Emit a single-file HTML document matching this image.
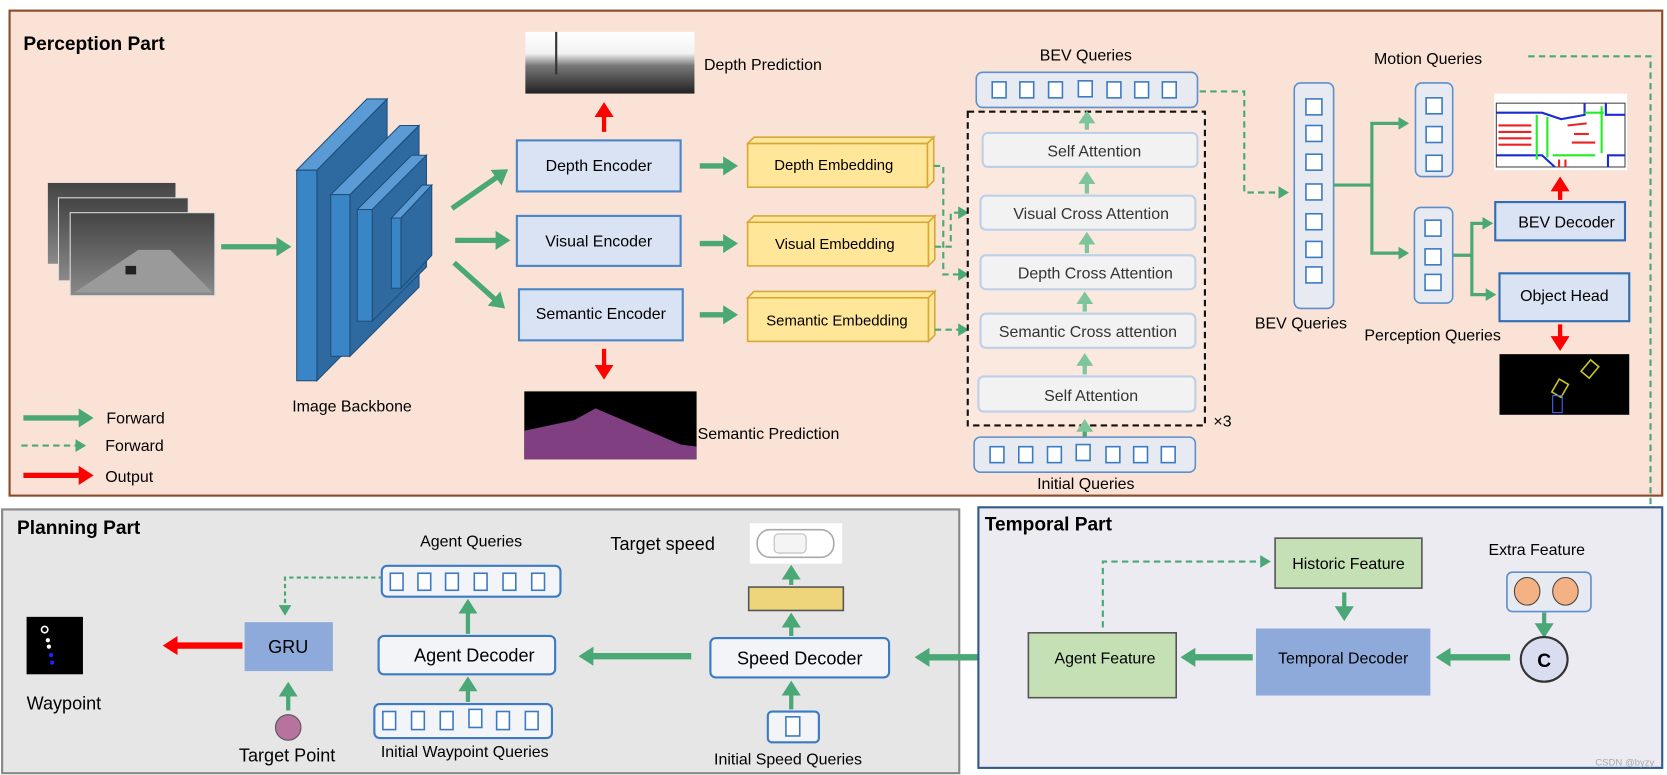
<!DOCTYPE html>
<html><head><meta charset="utf-8"><style>
html,body{margin:0;padding:0;background:#fff;overflow:hidden;}
svg{display:block;font-family:"Liberation Sans",Arial,sans-serif;}
</style></head><body>
<svg width="1667" height="775" viewBox="0 0 1567.5 728.7" preserveAspectRatio="none" xmlns="http://www.w3.org/2000/svg">
<defs>
<marker id="g" markerUnits="userSpaceOnUse" markerWidth="16" markerHeight="18" refX="2" refY="9" orient="auto"><path d="M0,0 L14,9 L0,18 Z" fill="#4aa876"/></marker>
<marker id="lg" markerUnits="userSpaceOnUse" markerWidth="14" markerHeight="16" refX="2" refY="8" orient="auto"><path d="M0,0 L12,8 L0,16 Z" fill="#7ec59c"/></marker>
<marker id="r" markerUnits="userSpaceOnUse" markerWidth="16" markerHeight="18" refX="2" refY="9" orient="auto"><path d="M0,0 L14,9 L0,18 Z" fill="#f00"/></marker>
<marker id="d" markerUnits="userSpaceOnUse" markerWidth="12" markerHeight="12" refX="1" refY="6" orient="auto"><path d="M0,0 L10,6 L0,12 Z" fill="#4aa876"/></marker>
<marker id="t" markerUnits="userSpaceOnUse" markerWidth="12" markerHeight="12" refX="1" refY="6" orient="auto"><path d="M0,0 L10,6 L0,12 Z" fill="#4aa876"/></marker>
<linearGradient id="dep" x1="0" y1="0" x2="0" y2="1"><stop offset="0" stop-color="#fff"/><stop offset="0.35" stop-color="#f2f2f2"/><stop offset="0.55" stop-color="#777"/><stop offset="1" stop-color="#222"/></linearGradient>
<linearGradient id="img" x1="0" y1="0" x2="0" y2="1"><stop offset="0" stop-color="#444"/><stop offset="0.5" stop-color="#666"/><stop offset="1" stop-color="#8a8a8a"/></linearGradient>
</defs>

<!-- Perception Part -->
<rect x="9" y="10" width="1554" height="456" fill="#fae3d6" stroke="#8b4a2a" stroke-width="2"/>
<text x="22" y="47" font-size="18" font-weight="bold">Perception Part</text>

<!-- input images -->
<rect x="45" y="172" width="120" height="76" fill="url(#img)"/>
<rect x="55" y="186" width="122" height="78" fill="url(#img)" stroke="#ddd" stroke-width="1"/>
<rect x="66" y="200" width="136" height="78" fill="url(#img)" stroke="#ddd" stroke-width="1"/>
<path d="M70,275 L130,235 L160,235 L200,275 Z" fill="#9a9a9a"/>
<rect x="118" y="250" width="10" height="8" fill="#222"/>
<line x1="208" y1="232" x2="262" y2="232" stroke="#4aa876" stroke-width="5" marker-end="url(#g)"/>

<!-- backbone slabs -->
<g stroke="#1f4e79" stroke-width="1">
<polygon points="298,160 364,93 364,291 298,358" fill="#2e6aa0"/>
<polygon points="279,160 345,93 364,93 298,160" fill="#5b9bd5"/>
<rect x="279" y="160" width="19" height="198" fill="#3a85c5"/>
<polygon points="329,183 394,118 394,270 329,335" fill="#2e6aa0"/>
<polygon points="311,183 376,118 394,118 329,183" fill="#5b9bd5"/>
<rect x="311" y="183" width="18" height="152" fill="#3a85c5"/>
<polygon points="350,197 401,146 401,251 350,302" fill="#2e6aa0"/>
<polygon points="336,197 387,146 401,146 350,197" fill="#5b9bd5"/>
<rect x="336" y="197" width="14" height="105" fill="#3a85c5"/>
<polygon points="377,205 406,174 406,240 377,271" fill="#2e6aa0"/>
<polygon points="368,205 397,174 406,174 377,205" fill="#5b9bd5"/>
<rect x="368" y="205" width="9" height="66" fill="#3a85c5"/>
</g>
<text x="331" y="387" font-size="15" text-anchor="middle">Image Backbone</text>

<!-- encoders -->
<line x1="425" y1="196" x2="468" y2="166" stroke="#4aa876" stroke-width="5" marker-end="url(#g)"/>
<line x1="428" y1="226" x2="468" y2="226" stroke="#4aa876" stroke-width="5" marker-end="url(#g)"/>
<line x1="427" y1="247" x2="466" y2="282" stroke="#4aa876" stroke-width="5" marker-end="url(#g)"/>
<g fill="#dae3f3" stroke="#4a86c8" stroke-width="2">
<rect x="486" y="132" width="154" height="48"/>
<rect x="486" y="203" width="154" height="47"/>
<rect x="488" y="272" width="154" height="48"/>
</g>
<g font-size="15" text-anchor="middle">
<text x="563" y="161">Depth Encoder</text>
<text x="563" y="232">Visual Encoder</text>
<text x="565" y="300">Semantic Encoder</text>
</g>
<line x1="568" y1="124" x2="568" y2="108" stroke="#f00" stroke-width="4" marker-end="url(#r)"/>
<rect x="494" y="30" width="159" height="58" fill="url(#dep)"/>
<line x1="523" y1="30" x2="523" y2="70" stroke="#333" stroke-width="2"/>
<text x="662" y="66" font-size="15">Depth Prediction</text>
<line x1="568" y1="328" x2="568" y2="345" stroke="#f00" stroke-width="4" marker-end="url(#r)"/>
<rect x="493" y="368" width="162" height="64" fill="#000"/>
<path d="M493,405 L540,395 L560,384 L640,418 L655,420 L655,432 L493,432 Z" fill="#7f3f80"/>
<text x="656" y="413" font-size="15">Semantic Prediction</text>

<!-- embeddings -->
<g stroke="#4aa876" stroke-width="5">
<line x1="658" y1="156" x2="682" y2="156" marker-end="url(#g)"/>
<line x1="658" y1="229" x2="682" y2="229" marker-end="url(#g)"/>
<line x1="658" y1="296" x2="682" y2="296" marker-end="url(#g)"/>
</g>
<g fill="#ffe699" stroke="#d6a838" stroke-width="1.5">
<polygon points="703,135 709,129 878,129 872,135"/><polygon points="872,135 878,129 878,170 872,176"/><rect x="703" y="135" width="169" height="41"/>
<polygon points="703,209 709,203 879,203 873,209"/><polygon points="873,209 879,203 879,244 873,250"/><rect x="703" y="209" width="170" height="41"/>
<polygon points="703,280 709,274 879,274 873,280"/><polygon points="873,280 879,274 879,315 873,321"/><rect x="703" y="280" width="170" height="41"/>
</g>
<g font-size="14" text-anchor="middle">
<text x="784" y="160">Depth Embedding</text>
<text x="785" y="234">Visual Embedding</text>
<text x="787" y="306">Semantic Embedding</text>
</g>
<g fill="none" stroke="#4aa876" stroke-width="2" stroke-dasharray="6,4">
<path d="M878,156 L887,156 L887,258 L902,258" marker-end="url(#d)"/>
<path d="M879,232 L894,232 L894,200 L902,200" marker-end="url(#d)"/>
<path d="M879,310 L902,310" marker-end="url(#d)"/>
</g>

<!-- attention stack -->
<rect x="910" y="105" width="223" height="295" fill="#fbe9e0" stroke="#111" stroke-width="2" stroke-dasharray="6,4"/>
<text x="1141" y="401" font-size="15">×3</text>
<g fill="#f2f2f2" stroke="#bcd0e8" stroke-width="2">
<rect x="924" y="125" width="202" height="32" rx="5"/>
<rect x="922" y="184" width="202" height="32" rx="5"/>
<rect x="922" y="240" width="202" height="32" rx="5"/>
<rect x="922" y="295" width="202" height="32" rx="5"/>
<rect x="920" y="354" width="204" height="33" rx="5"/>
</g>
<g font-size="15" text-anchor="middle" fill="#333">
<text x="1029" y="147">Self Attention</text>
<text x="1026" y="206">Visual Cross Attention</text>
<text x="1030" y="262">Depth Cross Attention</text>
<text x="1023" y="317">Semantic Cross attention</text>
<text x="1026" y="377">Self Attention</text>
</g>
<g stroke="#7ec59c" stroke-width="4">
<line x1="1022" y1="122" x2="1022" y2="114" marker-end="url(#lg)"/>
<line x1="1022" y1="182" x2="1022" y2="171" marker-end="url(#lg)"/>
<line x1="1022" y1="238" x2="1022" y2="228" marker-end="url(#lg)"/>
<line x1="1020" y1="293" x2="1020" y2="284" marker-end="url(#lg)"/>
<line x1="1020" y1="352" x2="1020" y2="342" marker-end="url(#lg)"/>
</g>
<line x1="1020" y1="411" x2="1020" y2="404" stroke="#4aa876" stroke-width="4" marker-end="url(#lg)"/>

<!-- BEV top & initial queries -->
<rect x="918" y="68" width="208" height="33" rx="6" fill="#e7ebf1" stroke="#5b8fce" stroke-width="1.5"/>
<g fill="#fff" stroke="#3b7ac4" stroke-width="1.5">
<rect x="933" y="77" width="13" height="15"/><rect x="959" y="77" width="13" height="15"/><rect x="986" y="77" width="13" height="15"/><rect x="1014" y="76" width="13" height="15"/><rect x="1041" y="77" width="13" height="15"/><rect x="1067" y="77" width="13" height="15"/><rect x="1093" y="77" width="13" height="15"/>
</g>
<text x="1021" y="57" font-size="15" text-anchor="middle">BEV Queries</text>
<rect x="916" y="411" width="208" height="33" rx="6" fill="#e7ebf1" stroke="#5b8fce" stroke-width="1.5"/>
<g fill="#fff" stroke="#3b7ac4" stroke-width="1.5">
<rect x="931" y="420" width="13" height="15"/><rect x="958" y="420" width="13" height="15"/><rect x="985" y="420" width="13" height="15"/><rect x="1012" y="418" width="13" height="15"/><rect x="1040" y="420" width="13" height="15"/><rect x="1066" y="420" width="13" height="15"/><rect x="1092" y="420" width="13" height="15"/>
</g>
<text x="1021" y="460" font-size="15" text-anchor="middle">Initial Queries</text>

<path d="M1128,86 L1170,86 L1170,181 L1203,181" fill="none" stroke="#4aa876" stroke-width="2" stroke-dasharray="6,4" marker-end="url(#d)"/>

<!-- BEV column -->
<rect x="1217" y="78" width="37" height="212" rx="6" fill="#e7ebf1" stroke="#5b8fce" stroke-width="1.5"/>
<g fill="#fff" stroke="#3b7ac4" stroke-width="1.5">
<rect x="1228" y="93" width="15" height="15"/><rect x="1228" y="118" width="15" height="15"/><rect x="1228" y="145" width="15" height="15"/><rect x="1228" y="173" width="15" height="15"/><rect x="1228" y="201" width="15" height="15"/><rect x="1228" y="227" width="15" height="15"/><rect x="1228" y="251" width="15" height="15"/>
</g>
<text x="1180" y="309" font-size="15">BEV Queries</text>
<g fill="none" stroke="#4aa876" stroke-width="3">
<path d="M1254,174 L1290,174 L1290,116 L1316,116" marker-end="url(#t)"/>
<path d="M1290,174 L1290,238 L1316,238" marker-end="url(#t)"/>
<path d="M1366,240 L1384,240 L1384,210 L1395,210" marker-end="url(#t)"/>
<path d="M1384,240 L1384,277 L1398,277" marker-end="url(#t)"/>
</g>
<rect x="1331" y="78" width="35" height="88" rx="6" fill="#e7ebf1" stroke="#5b8fce" stroke-width="1.5"/>
<g fill="#fff" stroke="#3b7ac4" stroke-width="1.5">
<rect x="1341" y="92" width="15" height="15"/><rect x="1341" y="119" width="15" height="15"/><rect x="1341" y="146" width="15" height="15"/>
</g>
<text x="1292" y="60" font-size="15">Motion Queries</text>
<rect x="1330" y="195" width="36" height="90" rx="6" fill="#e7ebf1" stroke="#5b8fce" stroke-width="1.5"/>
<g fill="#fff" stroke="#3b7ac4" stroke-width="1.5">
<rect x="1340" y="207" width="15" height="15"/><rect x="1340" y="234" width="15" height="15"/><rect x="1340" y="258" width="15" height="15"/>
</g>
<text x="1283" y="320" font-size="15">Perception Queries</text>
<g fill="#dae3f3" stroke="#2f6db5" stroke-width="2">
<rect x="1406" y="190" width="122" height="36"/>
<rect x="1410" y="257" width="122" height="45"/>
</g>
<text x="1473" y="214" font-size="15" text-anchor="middle">BEV Decoder</text>
<text x="1471" y="283" font-size="15" text-anchor="middle">Object Head</text>
<line x1="1467" y1="188" x2="1467" y2="178" stroke="#f00" stroke-width="4" marker-end="url(#r)"/>
<rect x="1405" y="88" width="125" height="72" fill="#fff"/>
<rect x="1407" y="97" width="121" height="60" fill="#fff" stroke="#444" stroke-width="1"/>
<g stroke="#1a2bd6" stroke-width="2" fill="none"><path d="M1407,106 L1450,106 L1468,112 L1490,108 L1490,97"/><path d="M1510,97 L1510,108 L1528,108"/><path d="M1407,146 L1450,146 L1462,157"/><path d="M1512,157 L1512,146 L1528,146"/></g>
<g stroke="#e22" stroke-width="2"><line x1="1409" y1="118" x2="1440" y2="118"/><line x1="1409" y1="124" x2="1440" y2="124"/><line x1="1409" y1="130" x2="1440" y2="130"/><line x1="1409" y1="136" x2="1440" y2="136"/><line x1="1474" y1="118" x2="1492" y2="116"/><line x1="1480" y1="126" x2="1494" y2="126"/><line x1="1478" y1="134" x2="1500" y2="134"/><line x1="1466" y1="150" x2="1466" y2="157"/><line x1="1472" y1="150" x2="1472" y2="157"/></g>
<g stroke="#2e2" stroke-width="2" fill="none"><path d="M1445,108 L1445,150"/><path d="M1455,110 L1455,148"/><path d="M1506,100 L1506,144"/><path d="M1460,146 L1500,146"/><path d="M1490,106 L1508,106"/></g>
<line x1="1467" y1="305" x2="1467" y2="318" stroke="#f00" stroke-width="4" marker-end="url(#r)"/>
<rect x="1410" y="333" width="122" height="57" fill="#000"/>
<g fill="none" stroke="#c8c820" stroke-width="1.5"><rect x="1462" y="358" width="10" height="14" transform="rotate(30 1467 365)"/><rect x="1490" y="340" width="10" height="14" transform="rotate(40 1495 347)"/></g>
<rect x="1460" y="372" width="9" height="16" fill="none" stroke="#4466ff"/>
<path d="M1437,53 L1552,53 L1552,617 L1487,617" fill="none" stroke="#4aa876" stroke-width="2" stroke-dasharray="6,4" marker-end="url(#d)"/>

<!-- legend -->
<line x1="22" y1="393" x2="76" y2="393" stroke="#4aa876" stroke-width="5" marker-end="url(#g)"/>
<text x="100" y="398" font-size="15">Forward</text>
<line x1="20" y1="419" x2="72" y2="419" stroke="#4aa876" stroke-width="2" stroke-dasharray="6,4" marker-end="url(#d)"/>
<text x="99" y="424" font-size="15">Forward</text>
<line x1="22" y1="447" x2="76" y2="447" stroke="#f00" stroke-width="5" marker-end="url(#r)"/>
<text x="99" y="453" font-size="15">Output</text>

<!-- Planning Part -->
<rect x="2" y="479" width="900" height="248" fill="#e6e6e6" stroke="#888" stroke-width="2"/>
<text x="16" y="502" font-size="18" font-weight="bold">Planning Part</text>
<rect x="25" y="580" width="53" height="54" fill="#000"/>
<circle cx="42" cy="592" r="3" fill="none" stroke="#fff" stroke-width="1.5"/>
<circle cx="45" cy="602" r="2" fill="#fff"/><circle cx="46" cy="608" r="2" fill="#fff"/><circle cx="48" cy="616" r="2" fill="#22f"/><circle cx="49" cy="623" r="2" fill="#22f"/>
<text x="25" y="667" font-size="17">Waypoint</text>
<line x1="228" y1="607" x2="165" y2="607" stroke="#f00" stroke-width="6" marker-end="url(#r)"/>
<rect x="230" y="585" width="83" height="46" fill="#8eaadb"/>
<text x="271" y="614" font-size="17" text-anchor="middle">GRU</text>
<ellipse cx="271" cy="684" rx="12" ry="12" fill="#b5739d" stroke="#555"/>
<text x="270" y="716" font-size="17" text-anchor="middle">Target Point</text>
<line x1="271" y1="668" x2="271" y2="653" stroke="#4aa876" stroke-width="4" marker-end="url(#g)"/>
<path d="M360,543 L268,543 L268,570" fill="none" stroke="#4aa876" stroke-width="2" stroke-dasharray="4,3" marker-end="url(#d)"/>
<rect x="359" y="532" width="168" height="29" rx="5" fill="#f2f4f8" stroke="#3b7ac4" stroke-width="2"/>
<g fill="#fff" stroke="#3b7ac4" stroke-width="1.5"><rect x="367" y="539" width="12" height="16"/><rect x="393" y="539" width="12" height="16"/><rect x="419" y="539" width="12" height="16"/><rect x="446" y="539" width="12" height="16"/><rect x="473" y="539" width="12" height="16"/><rect x="500" y="539" width="12" height="16"/></g>
<text x="443" y="514" font-size="15" text-anchor="middle">Agent Queries</text>
<rect x="356" y="598" width="166" height="36" rx="5" fill="#f2f4f8" stroke="#3b7ac4" stroke-width="2"/>
<text x="446" y="622" font-size="17" text-anchor="middle">Agent Decoder</text>
<rect x="352" y="662" width="167" height="32" rx="5" fill="#f2f4f8" stroke="#3b7ac4" stroke-width="2"/>
<g fill="#fff" stroke="#3b7ac4" stroke-width="1.5"><rect x="360" y="669" width="12" height="17"/><rect x="387" y="669" width="12" height="17"/><rect x="414" y="669" width="12" height="17"/><rect x="441" y="667" width="12" height="17"/><rect x="467" y="669" width="12" height="17"/><rect x="494" y="669" width="12" height="17"/></g>
<text x="437" y="712" font-size="15" text-anchor="middle">Initial  Waypoint Queries</text>
<line x1="440" y1="660" x2="440" y2="648" stroke="#4aa876" stroke-width="4" marker-end="url(#g)"/>
<line x1="440" y1="596" x2="440" y2="575" stroke="#4aa876" stroke-width="4" marker-end="url(#g)"/>
<line x1="650" y1="617" x2="556" y2="617" stroke="#4aa876" stroke-width="6" marker-end="url(#g)"/>
<rect x="668" y="600" width="168" height="37" rx="5" fill="#f2f4f8" stroke="#3b7ac4" stroke-width="2"/>
<text x="752" y="625" font-size="17" text-anchor="middle">Speed Decoder</text>
<rect x="722" y="669" width="48" height="29" rx="4" fill="#f2f4f8" stroke="#3b7ac4" stroke-width="2"/>
<rect x="739" y="674" width="13" height="18" fill="#fff" stroke="#3b7ac4" stroke-width="1.5"/>
<text x="741" y="719" font-size="15" text-anchor="middle">Initial  Speed Queries</text>
<line x1="744" y1="667" x2="744" y2="652" stroke="#4aa876" stroke-width="4" marker-end="url(#g)"/>
<line x1="744" y1="598" x2="744" y2="588" stroke="#4aa876" stroke-width="4" marker-end="url(#g)"/>
<rect x="704" y="552" width="89" height="22" fill="#efd57a" stroke="#555" stroke-width="1.5"/>
<line x1="744" y1="550" x2="744" y2="543" stroke="#4aa876" stroke-width="4" marker-end="url(#g)"/>
<rect x="705" y="492" width="87" height="38" fill="#fff"/>
<rect x="712" y="498" width="72" height="26" rx="12" fill="#fff" stroke="#aaa" stroke-width="1.5"/>
<rect x="728" y="502" width="30" height="18" rx="4" fill="#f4f4f4" stroke="#bbb"/>
<text x="574" y="517" font-size="17">Target speed</text>
<line x1="965" y1="618" x2="872" y2="618" stroke="#4aa876" stroke-width="6" marker-end="url(#g)"/>

<!-- Temporal Part -->
<rect x="920" y="477" width="643" height="245" fill="#ecebf2" stroke="#2f5a8a" stroke-width="2"/>
<text x="926" y="499" font-size="18" font-weight="bold">Temporal Part</text>
<rect x="1199" y="506" width="138" height="47" fill="#c5e0b4" stroke="#555" stroke-width="1.5"/>
<text x="1268" y="535" font-size="15" text-anchor="middle">Historic Feature</text>
<rect x="1181" y="591" width="164" height="63" fill="#8eaadb"/>
<text x="1263" y="624" font-size="15" text-anchor="middle">Temporal Decoder</text>
<rect x="967" y="595" width="139" height="61" fill="#c5e0b4" stroke="#555" stroke-width="1.5"/>
<text x="1039" y="624" font-size="15" text-anchor="middle">Agent Feature</text>
<text x="1445" y="522" font-size="15" text-anchor="middle">Extra Feature</text>
<rect x="1417" y="538" width="79" height="37" rx="5" fill="#e7ebf1" stroke="#5b8fce" stroke-width="1.5"/>
<ellipse cx="1436" cy="556" rx="12" ry="13" fill="#f4b183" stroke="#444"/>
<ellipse cx="1472" cy="556" rx="12" ry="13" fill="#f4b183" stroke="#444"/>
<line x1="1452" y1="576" x2="1452" y2="588" stroke="#4aa876" stroke-width="4" marker-end="url(#g)"/>
<ellipse cx="1452" cy="620" rx="22" ry="21" fill="#dadcf0" stroke="#333" stroke-width="2"/>
<text x="1452" y="627" font-size="18" font-weight="bold" text-anchor="middle">C</text>
<line x1="1420" y1="618" x2="1362" y2="618" stroke="#4aa876" stroke-width="6" marker-end="url(#g)"/>
<line x1="1178" y1="618" x2="1122" y2="618" stroke="#4aa876" stroke-width="6" marker-end="url(#g)"/>
<line x1="1264" y1="557" x2="1264" y2="572" stroke="#4aa876" stroke-width="4" marker-end="url(#g)"/>
<path d="M1037,590 L1037,528 L1186,528" fill="none" stroke="#4aa876" stroke-width="2" stroke-dasharray="6,4" marker-end="url(#d)"/>
<text x="1500" y="720" font-size="9" fill="#aaa">CSDN @byzy</text>
</svg>
</body></html>
